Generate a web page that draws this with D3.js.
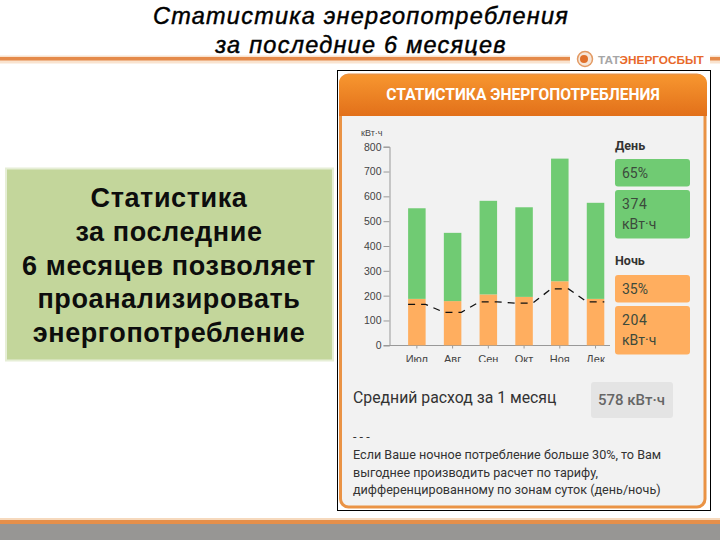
<!DOCTYPE html>
<html>
<head>
<meta charset="utf-8">
<script src="https://cdn.jsdelivr.net/npm/d3@7"></script>
<style>
body { margin: 0; background: #fff; }
svg { display: block; }
</style>
</head>
<body>
<div id="plot"></div>
<script>
var width = 720;
var height = 540;

// values
var months = ["Июл", "Авг", "Сен", "Окт", "Ноя", "Дек"];
var nightValues = [187, 178, 205, 195, 258, 187];
var dayValues = [365, 275, 377, 361, 494, 387];
var limitValues = [165, 133, 175, 170, 227, 175];
var yTicks = [0, 100, 200, 300, 400, 500, 600, 700, 800];

var titleLines = ["Статистика энергопотребления", "за последние 6 месяцев"];
var noteLines = ["Статистика", "за последние", "6 месяцев позволяет", "проанализировать", "энергопотребление"];
var footLines = [
  "Если Ваше ночное потребление больше 30%, то Вам",
  "выгоднее производить расчет по тарифу,",
  "дифференцированному по зонам суток (день/ночь)"
];

var green = "#70cb73";
var orange = "#ffae5f";

var svg = d3.select("div#plot")
  .append("svg")
  .attr("width", width)
  .attr("height", height);

var defs = svg.append("defs");
var headGrad = defs.append("linearGradient")
  .attr("id", "headGrad")
  .attr("x1", "0%").attr("y1", "0%")
  .attr("x2", "0%").attr("y2", "100%");
headGrad.append("stop").attr("offset", "0%").attr("stop-color", "#f7962f");
headGrad.append("stop").attr("offset", "100%").attr("stop-color", "#e2701a");

// month labels are cut off at the bottom in the original, coords are local to the axis group
defs.append("clipPath").attr("id", "labelClip")
  .append("rect")
  .attr("x", 380).attr("y", -5)
  .attr("width", 240).attr("height", 21.5);

// slide title
svg.selectAll(".title")
  .data(titleLines)
  .enter()
  .append("text")
  .attr("class", "title")
  .attr("x", 361)
  .attr("y", function(d, i){ return 23.5 + i * 29; })
  .attr("text-anchor", "middle")
  .style("font", "italic 23.5px 'Liberation Sans'")
  .style("letter-spacing", "1.25px")
  .style("stroke", "#000")
  .style("stroke-width", "0.45")
  .text(function(d){ return d; });

// orange rule under the title and logo
function rule(x1, x2){
  svg.append("rect").attr("x", x1).attr("y", 55.5).attr("width", x2 - x1).attr("height", 8).attr("fill", "#f9e3cf");
  svg.append("rect").attr("x", x1).attr("y", 57).attr("width", x2 - x1).attr("height", 3.5).attr("fill", "#e58a4a");
}
rule(0, 570);
rule(710, 720);

svg.append("circle").attr("cx", 585).attr("cy", 59).attr("r", 7.5)
  .attr("fill", "#f6e6d8").attr("stroke", "#e39a63").attr("stroke-width", 1.5);
svg.append("circle").attr("cx", 584).attr("cy", 59).attr("r", 4).attr("fill", "#e0702a");
var logo = svg.append("text")
  .attr("x", 598).attr("y", 64)
  .style("font", "bold 11.8px 'Liberation Sans'");
logo.append("tspan").attr("fill", "#a6a6a6").text("ТАТ");
logo.append("tspan").attr("fill", "#e8692a").text("ЭНЕРГОСБЫТ");

// left note box
svg.append("rect")
  .attr("x", 6).attr("y", 168.5)
  .attr("width", 327).attr("height", 192)
  .attr("fill", "#c3d69b")
  .attr("stroke", "#e6eed6")
  .attr("stroke-width", 2);
svg.selectAll(".note")
  .data(noteLines)
  .enter()
  .append("text")
  .attr("class", "note")
  .attr("x", 169)
  .attr("y", function(d, i){ return 207 + i * 33.8; })
  .attr("text-anchor", "middle")
  .attr("fill", "#0d0d0d")
  .style("font", "bold 27px 'Liberation Sans'")
  .style("letter-spacing", "0.6px")
  .text(function(d){ return d; });

// screenshot frame
svg.append("rect")
  .attr("x", 337.5).attr("y", 70.5)
  .attr("width", 373).attr("height", 440)
  .attr("fill", "#fff").attr("stroke", "#000");
svg.append("rect")
  .attr("x", 340.5).attr("y", 75)
  .attr("width", 364.5).attr("height", 432)
  .attr("rx", 8)
  .attr("fill", "#f2f2f2").attr("stroke", "#ea9345").attr("stroke-width", 3);
svg.append("path")
  .attr("d", "M339,116V83a8,8 0 0 1 8,-8H699a8,8 0 0 1 8,8V116Z")
  .attr("fill", "url(#headGrad)");
svg.append("text")
  .attr("x", 523).attr("y", 100)
  .attr("text-anchor", "middle")
  .attr("fill", "#fff")
  .style("font", "bold 15.6px Roboto")
  .text("СТАТИСТИКА ЭНЕРГОПОТРЕБЛЕНИЯ");

// chart
var x = d3.scaleBand()
  .domain(months)
  .range([399, 613.4])
  .paddingInner(0.51)
  .paddingOuter(0.255);
var y = d3.scaleLinear()
  .domain([0, 800])
  .range([345.3, 146.7]);

var yAxis = d3.axisLeft(y).tickValues(yTicks).tickSize(6).tickPadding(2);
var gy = svg.append("g")
  .attr("transform", "translate(389.5,0)")
  .call(yAxis);
gy.selectAll("text").style("font", "10.5px 'Liberation Sans'").attr("fill", "#444");
gy.selectAll("line").attr("stroke", "#999");
gy.select(".domain").attr("stroke", "#999");

var xAxis = d3.axisBottom(x).tickSize(3).tickSizeOuter(0).tickPadding(7);
var gx = svg.append("g")
  .attr("transform", "translate(0,345.5)")
  .attr("clip-path", "url(#labelClip)")
  .call(xAxis);
gx.selectAll("text").style("font", "11px 'Liberation Sans'").attr("fill", "#444");
gx.selectAll("line").attr("stroke", "#999");
gx.select(".domain").remove();
svg.append("line")
  .attr("x1", 384).attr("x2", 610)
  .attr("y1", 345.5).attr("y2", 345.5)
  .attr("stroke", "#999");

svg.append("text")
  .attr("x", 361).attr("y", 136)
  .attr("fill", "#444")
  .style("font", "9px 'Liberation Sans'")
  .text("кВт·ч");

svg.selectAll(".night")
  .data(nightValues)
  .enter()
  .append("rect")
  .attr("class", "night")
  .attr("x", function(d, i){ return x(months[i]); })
  .attr("width", x.bandwidth())
  .attr("y", function(d){ return y(d); })
  .attr("height", function(d){ return y(0) - y(d); })
  .attr("fill", orange);

svg.selectAll(".day")
  .data(dayValues)
  .enter()
  .append("rect")
  .attr("class", "day")
  .attr("x", function(d, i){ return x(months[i]); })
  .attr("width", x.bandwidth())
  .attr("y", function(d, i){ return y(nightValues[i] + d); })
  .attr("height", function(d){ return y(0) - y(d); })
  .attr("fill", green);

// dashed line runs flat across each bar
var limitPoints = [];
limitValues.forEach(function(d, i){
  limitPoints.push([x(months[i]), d]);
  limitPoints.push([x(months[i]) + x.bandwidth(), d]);
});
var line = d3.line()
  .x(function(d){ return d[0]; })
  .y(function(d){ return y(d[1]); });
svg.append("path")
  .attr("d", line(limitPoints))
  .attr("fill", "none")
  .attr("stroke", "#111")
  .attr("stroke-width", 1.3)
  .attr("stroke-dasharray", "7,6");

// day / night panel
var panelLabels = ["День", "Ночь"];
var panelLabelY = [150, 265];
var panelColors = [green, orange];
var panelPercents = ["65%", "35%"];
var panelAmounts = ["374", "204"];
var percentBoxY = [159, 275];
var amountBoxY = [190, 306];

panelLabels.forEach(function(label, i){
  svg.append("text")
    .attr("x", 615).attr("y", panelLabelY[i])
    .attr("fill", "#333")
    .style("font", "bold 12.5px Roboto")
    .text(label);
  svg.append("rect")
    .attr("x", 615).attr("y", percentBoxY[i])
    .attr("width", 75).attr("height", 27.5).attr("rx", 3)
    .attr("fill", panelColors[i]);
  svg.append("rect")
    .attr("x", 615).attr("y", amountBoxY[i])
    .attr("width", 75).attr("height", 48.5).attr("rx", 3)
    .attr("fill", panelColors[i]);
  svg.append("text")
    .attr("x", 622).attr("y", percentBoxY[i] + 18.5)
    .attr("fill", "#3c4a3c")
    .style("font", "14px Roboto")
    .text(panelPercents[i]);
  svg.append("text")
    .attr("x", 622).attr("y", amountBoxY[i] + 19)
    .attr("fill", "#3c4a3c")
    .style("font", "14px Roboto")
    .style("letter-spacing", "0.6px")
    .text(panelAmounts[i]);
  svg.append("text")
    .attr("x", 622).attr("y", amountBoxY[i] + 39)
    .attr("fill", "#3c4a3c")
    .style("font", "14px Roboto")
    .text("кВт·ч");
});

// average
svg.append("text")
  .attr("x", 353).attr("y", 403)
  .attr("fill", "#333")
  .style("font", "15.8px Roboto")
  .text("Средний расход за 1 месяц");
svg.append("rect")
  .attr("x", 591).attr("y", 382)
  .attr("width", 82).attr("height", 36).attr("rx", 3)
  .attr("fill", "#e4e4e4");
svg.append("text")
  .attr("x", 598).attr("y", 405)
  .attr("fill", "#666")
  .style("font", "500 15px Roboto")
  .text("578 кВт·ч");

// footnote
svg.append("text")
  .attr("x", 353).attr("y", 441)
  .attr("fill", "#333")
  .style("font", "12.6px Roboto")
  .text("- - -");
svg.selectAll(".foot")
  .data(footLines)
  .enter()
  .append("text")
  .attr("class", "foot")
  .attr("x", 353)
  .attr("y", function(d, i){ return 459 + i * 17.5; })
  .attr("fill", "#333")
  .style("font", "12.6px Roboto")
  .text(function(d){ return d; });

// bottom band
svg.append("rect").attr("x", 0).attr("y", 518).attr("width", width).attr("height", 3).attr("fill", "#f6d9bd");
svg.append("rect").attr("x", 0).attr("y", 520).attr("width", width).attr("height", 4).attr("fill", "#e58f4a");
svg.append("rect").attr("x", 0).attr("y", 524).attr("width", width).attr("height", 16).attr("fill", "#979694");
</script>
</body>
</html>
